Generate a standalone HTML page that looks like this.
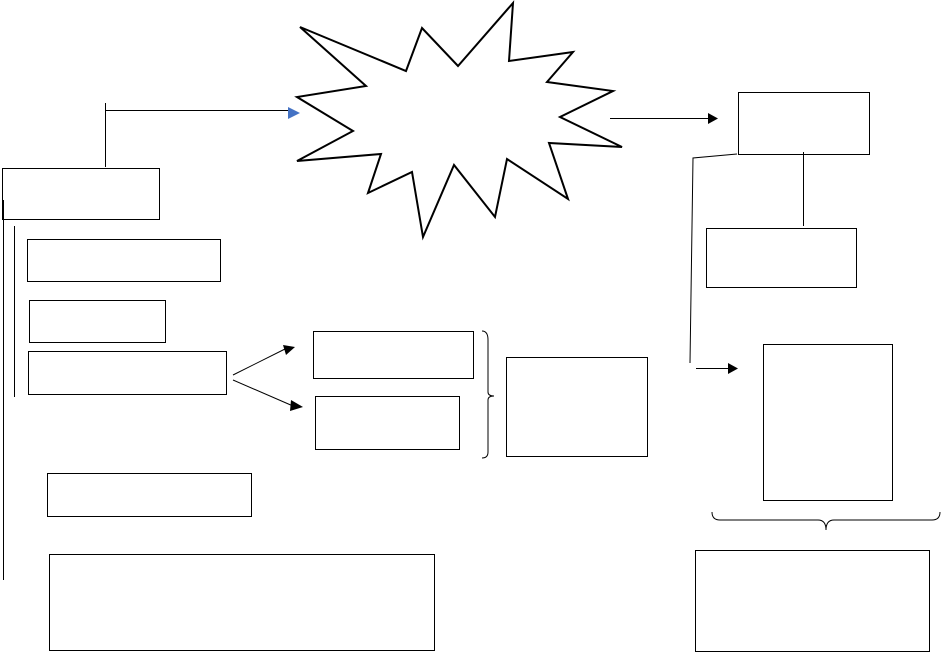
<!DOCTYPE html>
<html><head><style>html,body{margin:0;padding:0;background:#fff;}svg{display:block}</style></head>
<body>
<svg width="941" height="653" viewBox="0 0 941 653" xmlns="http://www.w3.org/2000/svg">
<g fill="none" stroke="#000" stroke-width="1">
<rect x="2.5" y="168.5" width="157" height="51"/>
<rect x="27.5" y="239.5" width="193" height="42"/>
<rect x="29.5" y="300.5" width="136" height="42"/>
<rect x="28.5" y="351.5" width="198" height="43"/>
<rect x="313.5" y="331.5" width="160" height="47"/>
<rect x="315.5" y="396.5" width="144" height="53"/>
<rect x="506.5" y="357.5" width="141" height="99"/>
<rect x="47.5" y="473.5" width="204" height="43"/>
<rect x="49.5" y="554.5" width="385" height="96"/>
<rect x="738.5" y="92.5" width="131" height="62"/>
<rect x="706.5" y="228.5" width="150" height="59"/>
<rect x="763.5" y="344.5" width="129" height="156"/>
<rect x="695.5" y="550.5" width="234" height="101"/>
<path d="M105.5 103 V167 M105 110.5 H290"/>
<path d="M610 118.5 H708"/>
<path d="M803.5 152 V226 M798 228.5 H808"/>
<path d="M737 154 L693 158 L690 363 M696 368.5 H728"/>
<path d="M14.5 226 V397 M3.5 200 V580"/>
<path d="M233 375 L285 349 M233 380 L293 406"/>
<path d="M482 331 Q488 331 488 340 V392 Q488 396 494 396 Q488 396 488 400 V452 Q488 458 482 458"/>
<path d="M712 512 Q712 520 720 520 H818 Q826 520 826 530 Q826 520 834 520 H932 Q940 520 940 512"/>
<polygon stroke-width="2" points="300,27 406,71 422,28 458,66 513,3 509,61 573,52 547,82 613,91 560,117 622,147 549,143 568,199 507,159 495,217 454,165 423,237 412,172 368,193 381,154 297,161 353,131 297,97 366,86"/>
</g>
<polygon fill="#4472c4" points="288,107 300,113 288,119"/>
<polygon fill="#000" points="708,113 718,118.5 708,124"/>
<polygon fill="#000" points="728,363 738,368.5 728,374"/>
<polygon fill="#000" points="283,345 295,347 286,355"/>
<polygon fill="#000" points="291,400 303,407 290,411"/>
</svg>
</body></html>
